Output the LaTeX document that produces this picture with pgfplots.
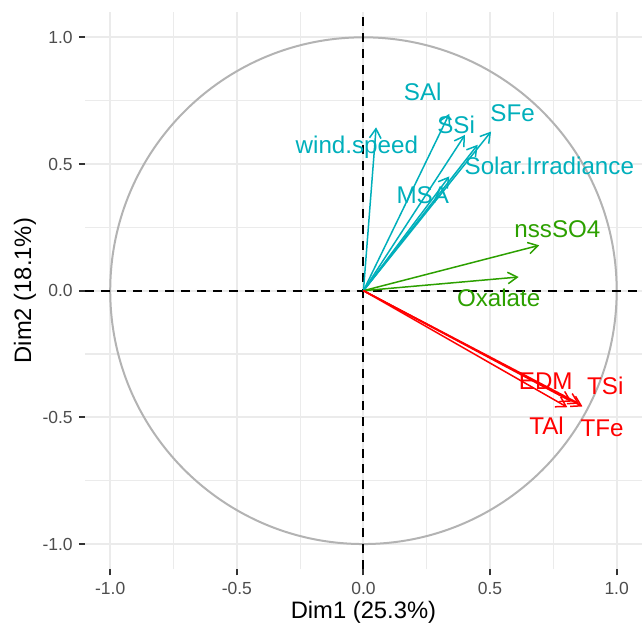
\documentclass[border=0pt]{standalone}
\usepackage{fontspec}
\setmainfont{Liberation Sans}
\usepackage{pgfplots}
\usepackage{pgfplotstable}
\pgfplotsset{compat=1.18}
\usetikzlibrary{arrows.meta}
\definecolor{cyanc}{HTML}{00AFBB}
\definecolor{greenc}{HTML}{2CA000}
\definecolor{redc}{HTML}{FF0000}
\definecolor{gridc}{HTML}{EBEBEB}
\definecolor{tickc}{HTML}{4D4D4D}
\definecolor{circc}{HTML}{B3B3B3}

% arrow tips (x,y) and label centres (lx,ly)
\pgfplotstableread{
x y lx ly label
0.050 0.645 -0.026 0.567 wind.speed
0.339 0.698 0.234 0.786 SAl
0.401 0.615 0.366 0.655 SSi
0.504 0.628 0.589 0.700 SFe
0.451 0.576 0.734 0.494 Solar.Irradiance
0.339 0.451 0.234 0.375 MSA
}\cyantab
\pgfplotstableread{
x y lx ly label
0.694 0.179 0.766 0.241 nssSO4
0.613 0.054 0.534 -0.029 Oxalate
}\greentab
\pgfplotstableread{
x y lx ly label
0.822 -0.438 0.720 -0.358 EDM
0.852 -0.446 0.955 -0.377 TSi
0.805 -0.460 0.723 -0.535 TAl
0.865 -0.457 0.942 -0.542 TFe
}\redtab

\pgfplotsset{
  arr/.style={quiver={u=\thisrow{x}, v=\thisrow{y},
      every arrow/.append style={line width=1.5pt, -{Straight Barb[length=9.5pt,width=11.5pt,line width=1.5pt]}}},
      line width=1.5pt},
  lab/.style={only marks, mark=*, mark size=0pt, mark options={draw=none,fill=none},
      point meta=explicit symbolic, nodes near coords, nodes near coords align={center},
      every node near coord/.append style={anchor=center, inner sep=0pt, text=#1,
        font=\fontsize{24.2}{27}\selectfont}},
}

\begin{document}
\begin{tikzpicture}
\begin{axis}[
  at={(0pt,0pt)}, anchor=south west,
  scale only axis, width=557.7pt, height=558pt,
  xmin=-1.1, xmax=1.1, ymin=-1.1, ymax=1.1,
  axis line style={draw=none},
  xtick={-1,-0.5,0,0.5,1}, ytick={-1,-0.5,0,0.5,1},
  xticklabels={-1.0,-0.5,0.0,0.5,1.0},
  yticklabels={-1.0,-0.5,0.0,0.5,1.0},
  minor tick num=1,
  grid=both,
  major grid style={gridc, line width=2pt},
  minor grid style={gridc, line width=1.2pt},
  tick align=outside, xtick pos=bottom, ytick pos=left,
  major tick length=6pt, minor tick length=0pt,
  major tick style={black!80, line width=2pt},
  ticklabel style={font=\fontsize{17.5}{20}\selectfont, text=tickc},
  xticklabel style={inner sep=0pt, yshift=-7pt},
  yticklabel style={inner sep=0pt, xshift=-6pt},
  xlabel={Dim1 (25.3\%)}, ylabel={Dim2 (18.1\%)},
  label style={font=\fontsize{23.8}{26}\selectfont},
  xlabel style={at={(axis description cs:0.5,-0.0765)}, anchor=center},
  ylabel style={at={(axis description cs:-0.1076,0.5)}, anchor=center},
]
\draw[circc, line width=2pt] (axis cs:0,0) circle [radius=1];
\addplot[black, line width=2pt, dash pattern=on 9pt off 7pt] coordinates {(-1.1,0) (1.1,0)};
\addplot[black, line width=2pt, dash pattern=on 9pt off 7pt] coordinates {(0,-1.1) (0,1.1)};
\addplot[cyanc, arr] table[x expr=0, y expr=0] {\cyantab};
\addplot[greenc, arr] table[x expr=0, y expr=0] {\greentab};
\addplot[redc, arr] table[x expr=0, y expr=0] {\redtab};
\addplot[lab=cyanc] table[x=lx, y=ly, meta=label] {\cyantab};
\addplot[lab=greenc] table[x=lx, y=ly, meta=label] {\greentab};
\addplot[lab=redc] table[x=lx, y=ly, meta=label] {\redtab};
\end{axis}
\pgfresetboundingbox
\path[use as bounding box] (-85pt,-57pt) rectangle (557.7pt,570pt);
\end{tikzpicture}
\end{document}
